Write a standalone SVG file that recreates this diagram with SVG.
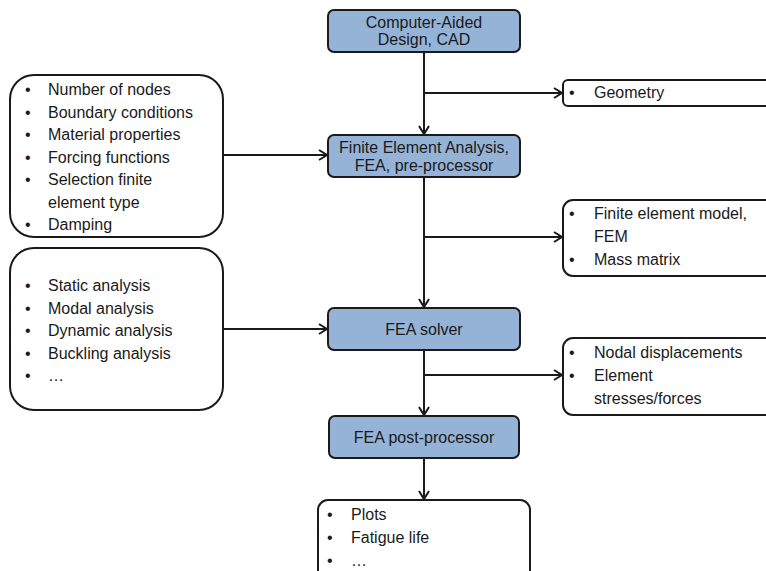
<svg xmlns="http://www.w3.org/2000/svg" width="766" height="571" viewBox="0 0 766 571">
<defs>
<style>
text{font-family:"Liberation Sans",Arial,sans-serif;font-size:16px;fill:#1a1a1a}
.mid{text-anchor:middle}
.blue{fill:#95b3d7;stroke:#1a1a1a;stroke-width:2}
.wht{fill:#ffffff;stroke:#1a1a1a;stroke-width:2}
.con{fill:none;stroke:#1a1a1a;stroke-width:2}
</style>
<marker id="arr" markerWidth="12" markerHeight="12" refX="10" refY="6" orient="auto" markerUnits="userSpaceOnUse">
<path d="M2,1 L10,6 L2,11" fill="none" stroke="#1a1a1a" stroke-width="2"/>
</marker>
</defs>
<rect width="766" height="571" fill="#ffffff"/>
<g id="connectors">
<line class="con" x1="424" y1="52" x2="424" y2="134" marker-end="url(#arr)"/>
<line class="con" x1="424" y1="93" x2="562" y2="93" marker-end="url(#arr)"/>
<line class="con" x1="223" y1="155" x2="327" y2="155" marker-end="url(#arr)"/>
<line class="con" x1="424" y1="177" x2="424" y2="307" marker-end="url(#arr)"/>
<line class="con" x1="424" y1="237" x2="562" y2="237" marker-end="url(#arr)"/>
<line class="con" x1="223" y1="329" x2="327" y2="329" marker-end="url(#arr)"/>
<line class="con" x1="424" y1="350" x2="424" y2="415" marker-end="url(#arr)"/>
<line class="con" x1="424" y1="375" x2="562" y2="375" marker-end="url(#arr)"/>
<line class="con" x1="424" y1="458" x2="424" y2="499" marker-end="url(#arr)"/>
</g>
<g id="cad">
<rect class="blue" x="328" y="10" width="192" height="42" rx="6"/>
<text class="mid" x="424" y="27.5">Computer-Aided</text>
<text class="mid" x="424" y="45">Design, CAD</text>
</g>
<g id="geometry">
<rect class="wht" x="563" y="80" width="230" height="26" rx="5"/>
<text x="569" y="98">•</text>
<text x="594" y="98">Geometry</text>
</g>
<g id="fea-pre">
<rect class="blue" x="328" y="135" width="192" height="42" rx="6"/>
<text class="mid" x="424" y="153">Finite Element Analysis,</text>
<text class="mid" x="424" y="171">FEA, pre-processor</text>
</g>
<g id="inputs">
<rect class="wht" x="10" y="75" width="213" height="162" rx="24"/>
<text x="25" y="95">•</text><text x="48" y="95">Number of nodes</text>
<text x="25" y="117.5">•</text><text x="48" y="117.5">Boundary conditions</text>
<text x="25" y="140">•</text><text x="48" y="140">Material properties</text>
<text x="25" y="162.5">•</text><text x="48" y="162.5">Forcing functions</text>
<text x="25" y="185">•</text><text x="48" y="185">Selection finite</text>
<text x="48" y="207.5">element type</text>
<text x="25" y="230">•</text><text x="48" y="230">Damping</text>
</g>
<g id="fem">
<rect class="wht" x="563" y="200" width="230" height="76" rx="10"/>
<text x="569" y="219">•</text><text x="594" y="219">Finite element model,</text>
<text x="594" y="242">FEM</text>
<text x="569" y="265">•</text><text x="594" y="265">Mass matrix</text>
</g>
<g id="analysis">
<rect class="wht" x="10" y="248" width="213" height="162" rx="24"/>
<text x="25" y="291">•</text><text x="48" y="291">Static analysis</text>
<text x="25" y="313.5">•</text><text x="48" y="313.5">Modal analysis</text>
<text x="25" y="336">•</text><text x="48" y="336">Dynamic analysis</text>
<text x="25" y="358.5">•</text><text x="48" y="358.5">Buckling analysis</text>
<text x="25" y="381">•</text><text x="48" y="381">…</text>
</g>
<g id="fea-solver">
<rect class="blue" x="328" y="308" width="192" height="42" rx="6"/>
<text class="mid" x="424" y="335">FEA solver</text>
</g>
<g id="results">
<rect class="wht" x="563" y="338" width="230" height="77" rx="10"/>
<text x="569" y="358">•</text><text x="594" y="358">Nodal displacements</text>
<text x="569" y="381">•</text><text x="594" y="381">Element</text>
<text x="594" y="404">stresses/forces</text>
</g>
<g id="fea-post">
<rect class="blue" x="329" y="416" width="190" height="42" rx="6"/>
<text class="mid" x="424" y="443">FEA post-processor</text>
</g>
<g id="outputs">
<rect class="wht" x="318" y="500" width="212" height="100" rx="10"/>
<text x="327" y="520">•</text><text x="351" y="520">Plots</text>
<text x="327" y="543">•</text><text x="351" y="543">Fatigue life</text>
<text x="327" y="566">•</text><text x="351" y="566">…</text>
</g>
</svg>
